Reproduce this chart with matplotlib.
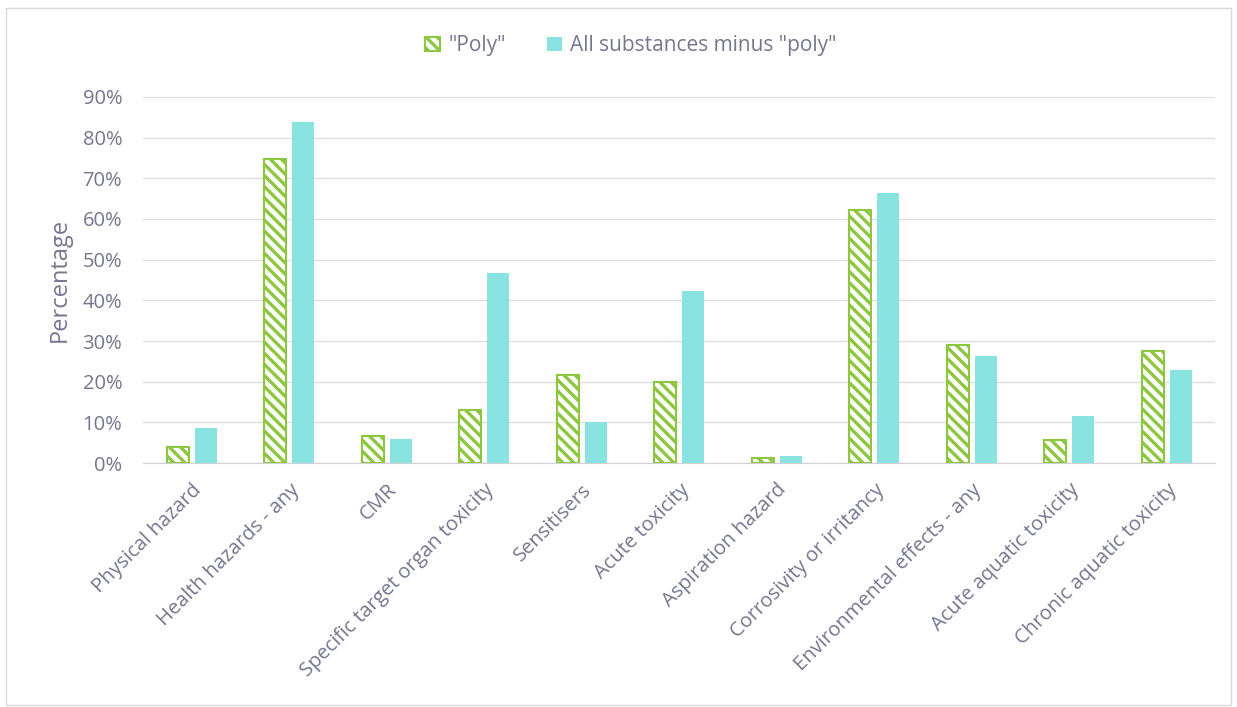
import numpy as np
import matplotlib.pyplot as plt
from matplotlib.patches import Rectangle
from matplotlib.ticker import PercentFormatter

plt.rcParams['font.family'] = ['Open Sans', 'DejaVu Sans']
plt.rcParams['hatch.linewidth'] = 2.4
plt.rcParams['hatch.color'] = '#8DC63F'

categories = ["Physical hazard", "Health hazards - any", "CMR",
              "Specific target organ toxicity", "Sensitisers", "Acute toxicity",
              "Aspiration hazard", "Corrosivity or irritancy",
              "Environmental effects - any", "Acute aquatic toxicity",
              "Chronic aquatic toxicity"]
poly = [3.9, 74.7, 6.6, 13.0, 21.6, 19.9, 1.2, 62.2, 29.0, 5.7, 27.5]
all_minus_poly = [8.6, 83.8, 5.9, 46.7, 10.1, 42.3, 1.7, 66.4, 26.3, 11.6, 22.9]

green = '#8DC63F'
cyan = '#89E3E0'
txt = '#767690'

fig = plt.figure(figsize=(12.37, 7.07), dpi=100)
ax = fig.add_axes([0.1156, 0.345, 0.867, 0.518])

x = np.arange(len(categories))
w = 0.225
ax.bar(x - w / 2 - 0.03, poly, w, facecolor='white', edgecolor=green,
       hatch='\\\\\\', linewidth=1.5, label='"Poly"')
ax.bar(x + w / 2 + 0.03, all_minus_poly, w, color=cyan,
       label='All substances minus "poly"')

ax.set_xlim(-0.5, len(categories) - 0.5)
ax.set_ylim(0, 90)
ax.set_yticks(np.arange(0, 91, 10))
ax.yaxis.set_major_formatter(PercentFormatter(decimals=0))
ax.grid(axis='y', color='#DDDDE3', linewidth=1)
ax.set_axisbelow(True)
for s in ['top', 'right', 'left']:
    ax.spines[s].set_visible(False)
ax.spines['bottom'].set_color('#D0D0D6')
ax.tick_params(axis='both', length=0, colors=txt, labelsize=14.5)
ax.tick_params(axis='y', pad=15)
ax.set_xticks(x)
ax.set_xticklabels(categories, rotation=45, ha='right', rotation_mode='anchor')
ax.tick_params(axis='x', pad=12)
ax.set_ylabel('Percentage', color=txt, fontsize=17, labelpad=8)

ax.legend(loc='lower center', bbox_to_anchor=(0.455, 1.06), ncol=2, frameon=False,
          fontsize=15, labelcolor=txt, handlelength=0.7, handleheight=0.7,
          columnspacing=2.0, handletextpad=0.4)

fig.patches.append(Rectangle((0.005, 0.003), 0.99, 0.985, transform=fig.transFigure,
                             fill=False, edgecolor='#D9D9D9', linewidth=1))

fig.savefig('out.png', dpi=100)
